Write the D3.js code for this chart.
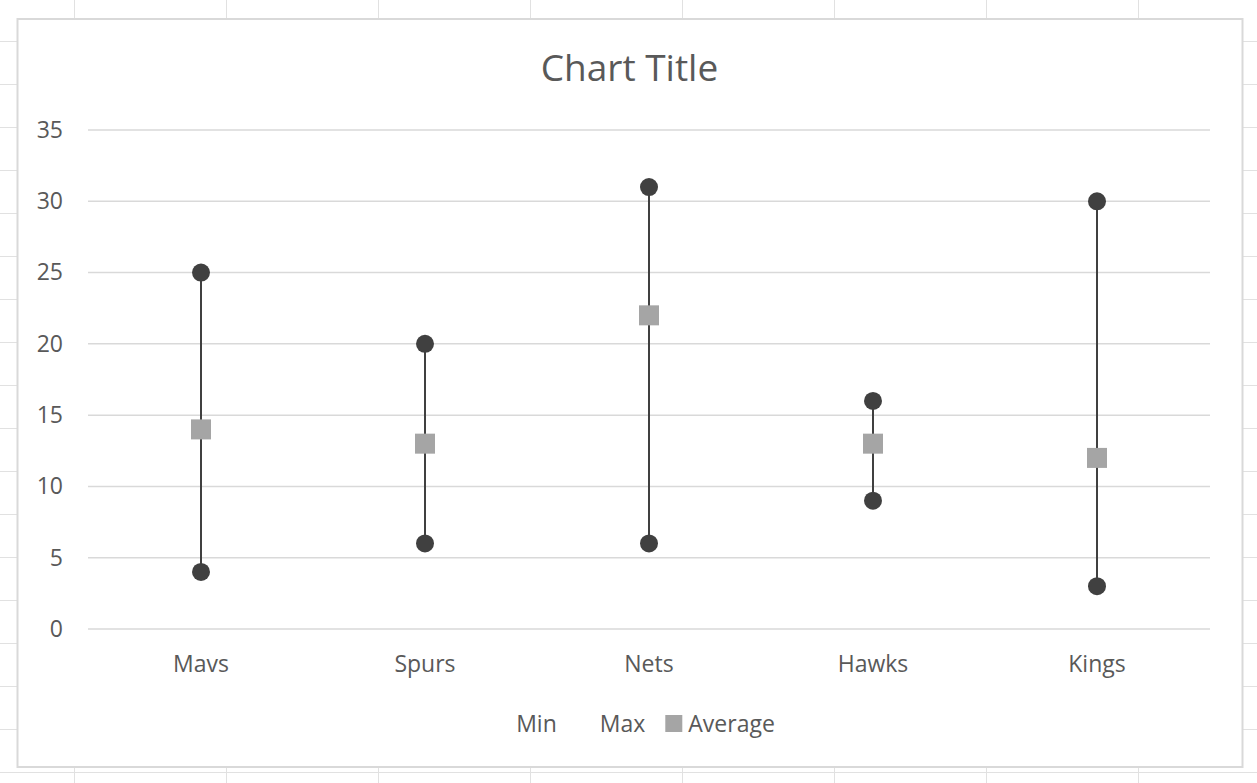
<!DOCTYPE html>
<html>
<head>
<meta charset="utf-8">
<script src="https://cdn.jsdelivr.net/npm/d3@7"></script>
<style>
  body { margin: 0; background: #fff; }
  svg { display: block; font-family: "Open Sans", sans-serif; }
</style>
</head>
<body>
<div id="chart"></div>
<script>
// data
const teams = ["Mavs", "Spurs", "Nets", "Hawks", "Kings"];
const minVals = [4, 6, 6, 9, 3];
const maxVals = [25, 20, 31, 16, 30];
const avgVals = [14, 13, 22, 13, 12];
const yTicks = [0, 5, 10, 15, 20, 25, 30, 35];
const seriesNames = ["Min", "Max", "Average"];

const W = 1257, H = 783;
const svg = d3.select("#chart").append("svg")
    .attr("width", W)
    .attr("height", H);

// spreadsheet cell grid behind the chart
const sheet = svg.append("g").attr("stroke", "#e1e1e1").attr("stroke-width", 1);
d3.range(74.5, W, 152).forEach(x => {
    sheet.append("line").attr("x1", x).attr("x2", x).attr("y1", 0).attr("y2", H);
});
d3.range(41.5, H, 43).forEach(y => {
    sheet.append("line").attr("x1", 0).attr("x2", W).attr("y1", y).attr("y2", y);
});

// chart area
svg.append("rect")
    .attr("x", 17.5).attr("y", 19)
    .attr("width", 1225).attr("height", 748)
    .attr("fill", "#fff")
    .attr("stroke", "#d9d9d9")
    .attr("stroke-width", 2);

svg.append("text")
    .attr("x", 629.5)
    .attr("y", 81)
    .attr("text-anchor", "middle")
    .style("font-size", "37px")
    .style("fill", "#595959")
    .text("Chart Title");

const x = d3.scaleBand().domain(teams).range([89, 1209]).padding(0);
const y = d3.scaleLinear().domain([0, 35]).range([629, 130]);

// gridlines
svg.append("g")
    .selectAll("line")
    .data(yTicks)
    .enter()
    .append("line")
    .attr("x1", 88).attr("x2", 1210)
    .attr("y1", d => y(d)).attr("y2", d => y(d))
    .attr("stroke", "#d9d9d9")
    .attr("stroke-width", 1.5);

// y axis labels
const yAxis = d3.axisLeft(y).tickValues(yTicks).tickSize(0).tickPadding(0);
svg.append("g")
    .attr("transform", "translate(63,0)")
    .call(yAxis)
    .call(g => g.select(".domain").remove())
    .call(g => g.selectAll("text")
        .style("font-family", "Open Sans, sans-serif")
        .style("font-size", "23px")
        .style("fill", "#595959"));

// x axis labels
const xAxis = d3.axisBottom(x).tickSize(0).tickPadding(0);
svg.append("g")
    .attr("transform", "translate(0,656)")
    .call(xAxis)
    .call(g => g.select(".domain").remove())
    .call(g => g.selectAll("text")
        .style("font-family", "Open Sans, sans-serif")
        .style("font-size", "23px")
        .style("fill", "#595959"));

const rows = teams.map((t, i) => ({ team: t, min: minVals[i], max: maxVals[i], avg: avgVals[i] }));
const cx = d => x(d.team) + x.bandwidth() / 2;

// high-low lines
svg.append("g")
    .selectAll("line")
    .data(rows)
    .enter()
    .append("line")
    .attr("x1", cx).attr("x2", cx)
    .attr("y1", d => y(d.min)).attr("y2", d => y(d.max))
    .attr("stroke", "#404040")
    .attr("stroke-width", 2);

// min and max markers
["min", "max"].forEach(k => {
    svg.append("g")
        .selectAll("circle")
        .data(rows)
        .enter()
        .append("circle")
        .attr("cx", cx)
        .attr("cy", d => y(d[k]))
        .attr("r", 9)
        .attr("fill", "#404040");
});

// average markers
svg.append("g")
    .selectAll("rect")
    .data(rows)
    .enter()
    .append("rect")
    .attr("x", d => cx(d) - 10)
    .attr("y", d => y(d.avg) - 10)
    .attr("width", 20)
    .attr("height", 20)
    .attr("fill", "#a5a5a5");

// legend (Min / Max have no visible symbol)
const legend = svg.append("g");
let lx = 0;
seriesNames.forEach(name => {
    const g = legend.append("g");
    if (name === "Average") {
        g.append("rect").attr("x", 0).attr("y", -17).attr("width", 17).attr("height", 17).attr("fill", "#a5a5a5");
    }
    const t = g.append("text")
        .attr("x", 23)
        .attr("y", 0)
        .style("font-size", "23px")
        .style("fill", "#595959")
        .text(name);
    const w = 23 + t.node().getComputedTextLength();
    g.attr("transform", `translate(${lx},0)`);
    lx += w + 20;
});
const legendW = lx - 20;
legend.attr("transform", `translate(${634 - legendW / 2},732)`);
</script>
</body>
</html>
